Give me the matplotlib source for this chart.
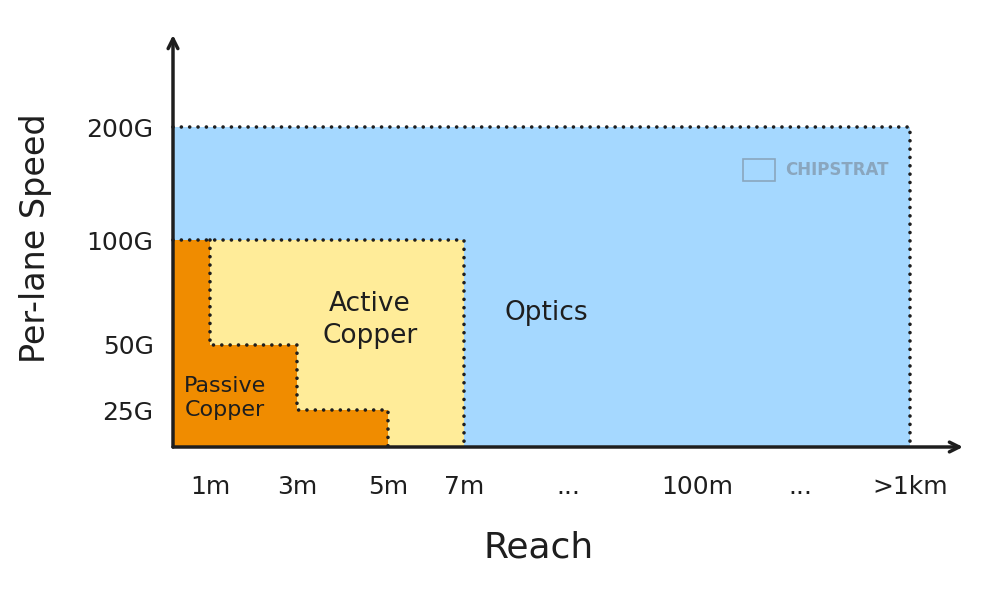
import matplotlib.pyplot as plt

# axis categories
speeds = ['25G', '50G', '100G', '200G']
reaches = ['1m', '3m', '5m', '7m', '...', '100m', '...', '>1km']

# reach / speed envelope of each technology
passive_reach = ['1m', '3m', '5m']
passive_speed = ['100G', '50G', '25G']
active_reach = '7m'
active_speed = '100G'
optics_reach = '>1km'
optics_speed = '200G'

# where the categories sit along the axes (layout, not data)
x_pos = [37, 124, 215, 291, 395, 524, 627, 737]
y_pos = [37, 102, 207, 320]

BLUE = '#a5d8ff'
YELLOW = '#ffec99'
ORANGE = '#f08c00'
INK = '#1e1e1e'


def xr(name):
    return x_pos[reaches.index(name)]


def ys(name):
    return y_pos[speeds.index(name)]


def dotted(ax, xs, yv):
    ax.plot(xs, yv, color=INK, lw=2.6, linestyle=(0, (0.01, 2.3)),
            dash_capstyle='round', zorder=5, clip_on=False)


fig = plt.figure(figsize=(9.88, 5.92), dpi=100)
ax = fig.add_axes([173 / 988, 145 / 592, 790 / 988, 412 / 592])
ax.set_xlim(0, 790)
ax.set_ylim(0, 412)
for s in ax.spines.values():
    s.set_visible(False)

# optics
ox, oy = xr(optics_reach), ys(optics_speed)
ax.fill_between([0, ox], [oy, oy], color=BLUE, lw=0, zorder=1)
dotted(ax, [0, ox, ox], [oy, oy, 0])

# active copper
ax_, ay = xr(active_reach), ys(active_speed)
ax.fill_between([0, ax_], [ay, ay], color=YELLOW, lw=0, zorder=2)
dotted(ax, [0, ax_, ax_], [ay, ay, 0])

# passive copper (staircase)
edges = [0] + [xr(r) for r in passive_reach]
heights = [ys(s) for s in passive_speed]
ax.fill_between(edges, heights + [heights[-1]], step='post', color=ORANGE, lw=0, zorder=3)
px, py = [], []
for i in range(len(heights)):
    px += [edges[i + 1], edges[i + 1]]
    py += [heights[i], heights[i + 1] if i + 1 < len(heights) else 0]
    if i + 1 < len(heights):
        px.append(edges[i + 2])
        py.append(heights[i + 1])
dotted(ax, px, py)

# axes with arrows
arrow = dict(arrowstyle='->,head_length=0.7,head_width=0.35', color=INK, lw=2.5,
             shrinkA=0, shrinkB=0)
ax.annotate('', xy=(790, 0), xytext=(0, 0), annotation_clip=False, arrowprops=arrow, zorder=6)
ax.annotate('', xy=(0, 412), xytext=(0, 0), annotation_clip=False, arrowprops=arrow, zorder=6)

ax.set_xticks(x_pos)
ax.set_xticklabels(reaches)
ax.set_yticks(y_pos)
ax.set_yticklabels(speeds)
ax.tick_params(length=0, labelsize=18, colors=INK)
ax.tick_params(axis='y', pad=14)
ax.tick_params(axis='x', pad=20)

fig.text(539 / 988, 1 - 548 / 592, 'Reach', ha='center', va='center', fontsize=26, color=INK)
fig.text(35 / 988, 1 - 238 / 592, 'Per-lane Speed', ha='center', va='center', fontsize=24,
         color=INK, rotation=90)

# region labels
ax.text(52, 49, 'Passive\nCopper', ha='center', va='center', fontsize=16,
        color=INK, linespacing=1.3, zorder=7)
ax.text(197, 127, 'Active\nCopper', ha='center', va='center', fontsize=19,
        color=INK, linespacing=1.3, zorder=7)
ax.text(373, 134, 'Optics', ha='center', va='center', fontsize=19, color=INK, zorder=7)

# watermark
ax.text(612, 277, 'CHIPSTRAT', ha='left', va='center', fontsize=12, color='#8aa6be',
        fontweight='bold', zorder=4)
ax.add_patch(plt.Rectangle((570, 266), 32, 22, facecolor='none', edgecolor='#8aa6be',
                           lw=1.2, zorder=4))

fig.savefig('out.png', dpi=100)
